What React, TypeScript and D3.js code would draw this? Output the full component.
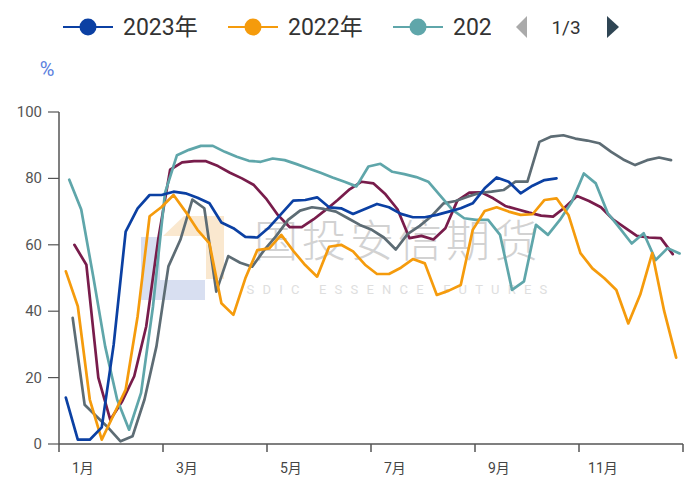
import React from "react";
import * as d3 from "d3";

// ---- data ----
const seriesNames = ["2023年", "2022年", "2021年", "2020年", "2019年"];
// first weekly observation, day of year (0 = Jan 1)
const firstDays = [4, 4, 6, 8, 9];

const v2023 = [14, 1.3, 1.3, 5, 30, 64, 71, 75, 75, 76, 75.5, 74.2, 72.5, 66.7, 65, 62.4, 62.2, 65.3, 69.3, 73.3, 73.5, 74.3, 71.3, 71, 69.3, 70.8, 72.3, 71.3, 69.3, 68.3, 68.3, 69, 70, 71, 72.5, 77, 80.3, 79, 75.5, 77.8, 79.5, 80];
const v2022 = [52, 41.5, 13.4, 1.3, 8.8, 16.4, 38.5, 68.6, 71.4, 75, 70, 64.5, 60.4, 42.4, 38.9, 49.9, 58.4, 58.9, 63, 58.2, 53.9, 50.4, 59.4, 60, 58, 54, 51.2, 51.2, 53.1, 55.7, 54.4, 44.9, 46.2, 47.9, 64.5, 70.2, 71.3, 70, 69, 69.2, 73.5, 74, 69, 57.5, 52.9, 49.9, 46.4, 36.3, 45, 57.5, 40, 26];
const v2021 = [79.6, 70.6, 50.5, 29.4, 13.4, 4.3, 15.4, 41.5, 75.6, 87, 88.6, 89.8, 89.8, 88, 86.5, 85.3, 85, 86, 85.5, 84.3, 83, 81.7, 80.3, 79, 77.6, 83.6, 84.4, 82, 81.3, 80.4, 79, 74.8, 70.6, 68, 67.5, 67.5, 63, 46.4, 49, 66, 63, 67.5, 73, 81.5, 78.5, 69.5, 65, 60.4, 63.5, 55.4, 59, 57.4];
const v2020 = [38, 11.8, 8.3, 4.8, 0.8, 2.3, 13.4, 29.4, 53.5, 61.5, 73.6, 71, 45.9, 56.6, 54.6, 53.4, 58.4, 62.6, 67.5, 70.3, 71.3, 70.8, 70, 68, 66, 64.5, 62.2, 58.6, 63.3, 65.7, 68.7, 72.5, 73.2, 74.5, 75.6, 76, 76.5, 79, 79, 91, 92.6, 93, 92, 91.4, 90.6, 88, 85.7, 84, 85.5, 86.3, 85.5];
const v2019 = [60, 54, 20, 7.3, 12.9, 20.4, 35.4, 61.5, 82.6, 84.8, 85.2, 85.2, 83.7, 81.7, 80, 78, 74, 69, 65.3, 65.3, 67.7, 70.5, 73.5, 76.7, 79, 78.5, 75.2, 70.7, 62, 62.7, 61.6, 65, 73.3, 75.7, 75.8, 74, 71.7, 70.7, 69.7, 68.8, 68.5, 71.3, 74.7, 73.2, 71.3, 67.7, 65.2, 62.7, 62.2, 62, 57.2];

const seriesValues = [v2023, v2022, v2021, v2020, v2019];
const colors = ["#0b40a3", "#f59b0c", "#5fa6aa", "#5d6c74", "#781c4b"];

const yTicks = [0, 20, 40, 60, 80, 100];
const monthLabels = ["1月", "3月", "5月", "7月", "9月", "11月"];
const legendPage = "1/3";
const watermarkCn = "国投安信期货";
const watermarkEn = "SDIC ESSENCE FUTURES";

const W = 686;
const H = 478;
const left = 59;
const right = 683;
const top = 112;
const bottom = 444;

export default function App() {
  const x = d3.scaleLinear().domain([0, 365]).range([left, right]);
  const y = d3.scaleLinear().domain([0, 100]).range([bottom, top]);
  const tickDays = d3.range(0, 7).map((k) => (k * 365) / 6);

  const line = (vals: number[], start: number) =>
    d3
      .line<number>()
      .x((_, i) => x(start + 7 * i))
      .y((d) => y(d))(vals) as string;

  const font = "Roboto, 'Noto Sans CJK SC', sans-serif";
  const legendItems = [0, 1, 2];
  const legendX = [63, 228, 393];

  return (
    <div style={{ position: "absolute", left: 0, top: 0 }}>
      <svg width={W} height={H} style={{ display: "block", background: "#fff" }} fontFamily={font}>
        <defs>
          <clipPath id="legclip">
            <rect x={0} y={0} width={491} height={60} />
          </clipPath>
        </defs>
        {/* watermark */}
        <g opacity={0.55}>
          <rect x={141} y={237} width={19} height={63} fill="#b9c6e6" />
          <rect x={141} y={280} width={64} height={20} fill="#b9c6e6" />
          <polygon points="163,236 184,216 224,216 224,279 206,279 206,236" fill="#f6d6a8" />
        </g>
        <text x={398} y={257} textAnchor="middle" fontSize={44} letterSpacing={4} fill="#d2d2d2" fontWeight={300}>
          {watermarkCn}
        </text>
        <text x={401} y={294} textAnchor="middle" fontSize={13} letterSpacing={8.2} fill="#dedede">
          {watermarkEn}
        </text>

        {/* axes */}
        <line x1={left} x2={left} y1={top} y2={bottom} stroke="#555" strokeWidth={1.5} />
        <line x1={left} x2={right} y1={bottom} y2={bottom} stroke="#555" strokeWidth={1.5} />
        {yTicks.map((t) => (
          <g key={t}>
            <line x1={left - 11} x2={left} y1={y(t)} y2={y(t)} stroke="#555" strokeWidth={1.2} />
            <text x={42} y={y(t) + 5} textAnchor="end" fontSize={15} fill="#555">
              {t}
            </text>
          </g>
        ))}
        {tickDays.map((d, k) => (
          <line key={k} x1={x(d)} x2={x(d)} y1={bottom} y2={bottom + 8} stroke="#555" strokeWidth={1.5} />
        ))}
        {monthLabels.map((m, k) => (
          <text key={m} x={x(tickDays[k] + 14)} y={473} textAnchor="middle" fontSize={14} fill="#444">
            {m}
          </text>
        ))}
        <text x={47} y={76} textAnchor="middle" fontSize={20} fill="#5a80de">
          %
        </text>

        {/* lines */}
        {[4, 3, 2, 1, 0].map((s) => (
          <path
            key={s}
            d={line(seriesValues[s], firstDays[s])}
            fill="none"
            stroke={colors[s]}
            strokeWidth={2.7}
            strokeLinejoin="round"
            strokeLinecap="round"
          />
        ))}

        {/* legend */}
        <g clipPath="url(#legclip)">
          {legendItems.map((s, k) => (
            <g key={s}>
              <line x1={legendX[k]} x2={legendX[k] + 50} y1={27} y2={27} stroke={colors[s]} strokeWidth={2} />
              <circle cx={legendX[k] + 25} cy={27} r={8.5} fill={colors[s]} />
              <text x={legendX[k] + 60} y={35} fontSize={23} fill="#333">
                {seriesNames[s]}
              </text>
            </g>
          ))}
        </g>
        <polygon points="516,27 527,16 527,38" fill="#aaa" />
        <text x={566} y={34} textAnchor="middle" fontSize={19} fill="#333">
          {legendPage}
        </text>
        <polygon points="619,27 607,16 607,38" fill="#2f4554" />
      </svg>
    </div>
  );
}
